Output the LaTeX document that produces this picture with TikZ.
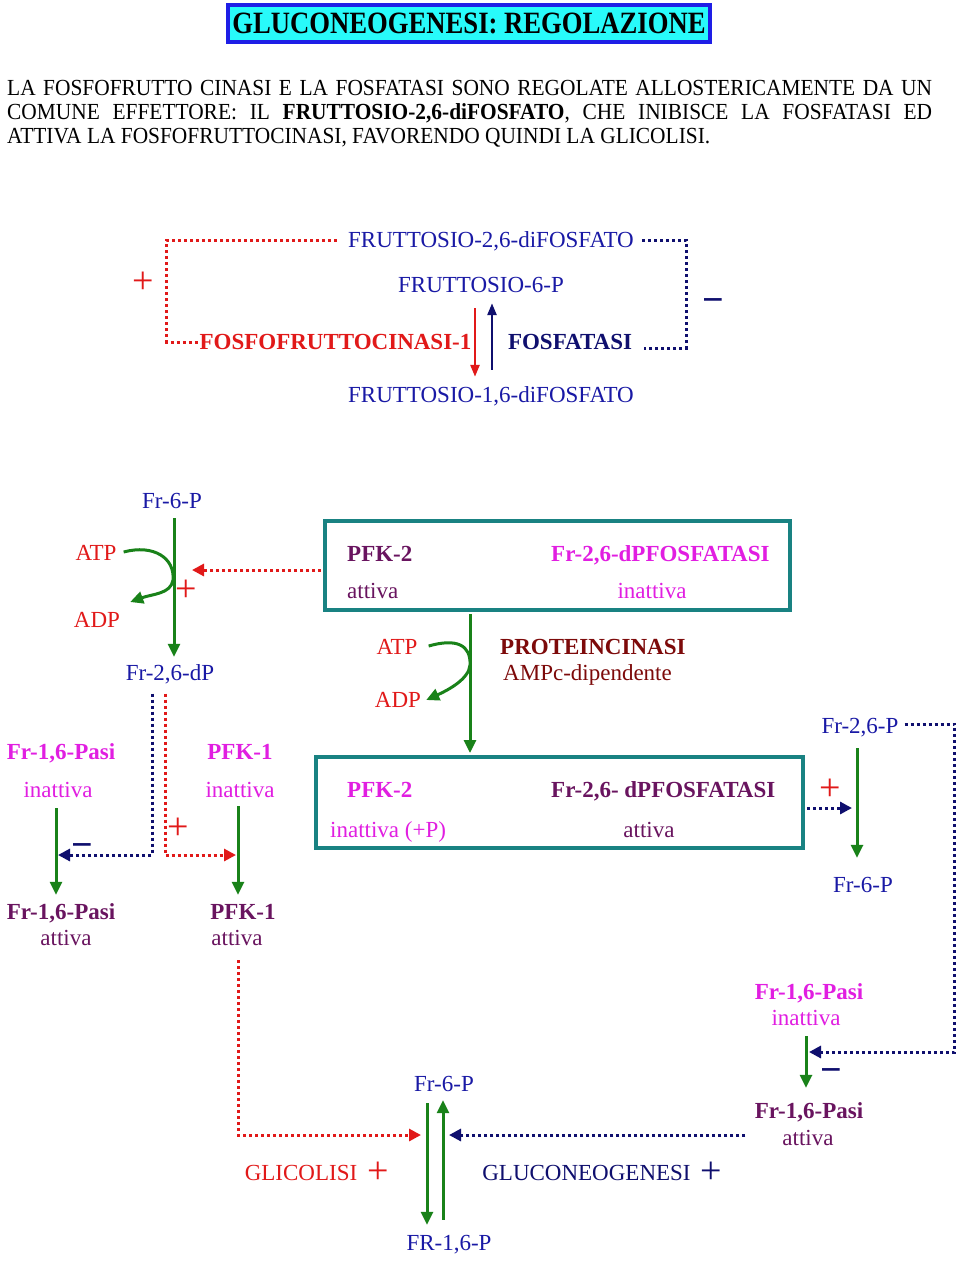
\documentclass[tikz,border=0pt]{standalone}
\usepackage{fontspec}
\setmainfont{Liberation Serif}
\newfontfamily\condfont[FakeStretch=0.93]{Liberation Serif}
\newfontfamily\titlefont[FakeStretch=0.86]{Liberation Serif}
\usetikzlibrary{arrows.meta,calc}
\definecolor{tblue}{RGB}{25,25,165}
\definecolor{navyc}{RGB}{15,15,110}
\definecolor{tred}{RGB}{225,25,25}
\definecolor{mag}{RGB}{225,30,225}
\definecolor{purp}{RGB}{105,20,95}
\definecolor{maroonc}{RGB}{125,10,10}
\definecolor{grn}{RGB}{25,130,25}
\definecolor{boxteal}{RGB}{25,130,130}
\definecolor{titlecyan}{RGB}{40,250,250}
\definecolor{titleblue}{RGB}{30,30,230}
\begin{document}
\begin{tikzpicture}[x=1pt,y=-1pt,
  lbl/.style={inner sep=0pt,text height=16pt,text depth=5pt,font=\fontsize{23}{26}\selectfont},
  blbl/.style={lbl,font=\fontsize{23}{26}\selectfont\bfseries},
  sgn/.style={inner sep=0pt,anchor=base,font=\fontsize{38}{38}\selectfont},
  msgn/.style={inner sep=0pt,anchor=base,font=\fontsize{38}{38}\selectfont\bfseries},
  grnarr/.style={draw=grn,line width=3pt,-{Triangle[length=13pt,width=12pt]}},
  rdot/.style={draw=tred,line width=3pt,dash pattern=on 3pt off 3pt},
  ndot/.style={draw=navyc,line width=3pt,dash pattern=on 3pt off 3pt},
  rdarr/.style={rdot,-{Triangle[length=12pt,width=12pt]}},
  ndarr/.style={ndot,-{Triangle[length=12pt,width=12pt]}},
  enzbox/.style={draw=boxteal,line width=4pt,inner sep=0pt}
]
\useasboundingbox (0,0) rectangle (960,1262);
\fill[white] (0,0) rectangle (960,1262);

% title
\node[draw=titleblue,fill=titlecyan,line width=3.5pt,minimum width=482pt,minimum height=37pt,inner sep=0pt,
  font=\titlefont\fontsize{31}{31}\selectfont\bfseries] (title) at (469,23.5) {GLUCONEOGENESI: REGOLAZIONE};

% paragraph
\node[anchor=base west,inner sep=0pt,font=\condfont\fontsize{23}{25}\selectfont] (p1) at (7,95)
  {\makebox[925pt][s]{LA FOSFOFRUTTO CINASI E LA FOSFATASI SONO REGOLATE ALLOSTERICAMENTE DA UN}};
\node[anchor=base west,inner sep=0pt,font=\condfont\fontsize{23}{25}\selectfont] (p2) at (7,119)
  {\makebox[925pt][s]{COMUNE EFFETTORE: IL \textbf{FRUTTOSIO-2,6-diFOSFATO}, CHE INIBISCE LA FOSFATASI ED}};
\node[anchor=base west,inner sep=0pt,font=\condfont\fontsize{23}{25}\selectfont] (p3) at (7,143)
  {ATTIVA LA FOSFOFRUTTOCINASI, FAVORENDO QUINDI LA GLICOLISI.};

% top scheme
\node[lbl,text=tblue] (f26) at (491,242) {FRUTTOSIO-2,6-diFOSFATO};
\node[lbl,text=tblue] (f6) at (481,287) {FRUTTOSIO-6-P};
\node[blbl,text=tred] (pfk) at (335.5,344) {FOSFOFRUTTOCINASI-1};
\node[blbl,text=navyc] (fosf) at (570,344) {FOSFATASI};
\node[lbl,text=tblue] (f16) at (491,397) {FRUTTOSIO-1,6-diFOSFATO};
\node[sgn,text=tred] (plusA) at (143,293.5) {+};
\node[msgn,text=navyc] (minusA) at (713,312) {−};
\draw[rdot] ($(f26.west)+(-11,-2)$) -- ++(-170,0) |- ($(pfk.west)+(0,-2)$);
\draw[ndot] ($(f26.east)+(8,-2)$) -- ++(44,0) |- ($(fosf.east)+(12,4)$);
\draw[draw=tred,line width=2.5pt,-{Triangle[length=12pt,width=9pt]}] ($(f6.south)+(-6,10.5)$) -- ($(f16.north)+(-16,-9.5)$);
\draw[draw=navyc,line width=2.5pt,-{Triangle[length=12pt,width=9pt]}] ($(f16.north)+(1,-16.5)$) -- ($(f6.south)+(11,5.5)$);

% left: PFK-2 reaction
\node[lbl,text=tblue] (fr6a) at (172,503) {Fr-6-P};
\node[lbl,text=tred] (atp1) at (96,555) {ATP};
\node[lbl,text=tred] (adp1) at (97,622) {ADP};
\node[lbl,text=tblue] (fr26dp) at (170,675) {Fr-2,6-dP};
\coordinate (k1) at (173,580);
\draw[grnarr] ($(fr6a.south)+(2,4.5)$) -- ($(fr26dp.north)+(4,-7.5)$);
\draw[grnarr] ($(atp1.east)+(7,-3)$) .. controls +(30,-8) and +(2,-22) .. (k1) .. controls +(-2,14) and +(22,-8) .. ($(adp1.east)+(10,-20)$);
\node[sgn,text=tred] (plusB) at (186,601.5) {+};
\coordinate (t1) at (192,570);

% boxes
\node[enzbox,minimum width=465pt,minimum height=89pt] (box1) at (557.5,565.5) {};
\node[enzbox,minimum width=487pt,minimum height=91pt] (box2) at (559.5,802.5) {};
\draw[rdarr] ($(box1.west)+(-2,4.5)$) -- (t1);

\node[blbl,text=purp,anchor=west] (pfk2a) at (347,556) {PFK-2};
\node[lbl,text=purp,anchor=west] (att3) at (347,593) {attiva};
\node[blbl,text=mag,anchor=west] (fdp1) at (551,556) {Fr-2,6-dPFOSFATASI};
\node[lbl,text=mag] (in3) at (652,593) {inattiva};

\node[lbl,text=tred] (atp2) at (397,649) {ATP};
\node[lbl,text=tred] (adp2) at (398,702) {ADP};
\node[blbl,text=maroonc,anchor=west] (prot) at (500,649) {PROTEINCINASI};
\node[lbl,text=maroonc,anchor=west] (ampc) at (503,675) {AMPc-dipendente};
\coordinate (k2) at (470,665);
\draw[grnarr] ($(box1.south)+(-87.5,2)$) -- ($(box2.north)+(-89.5,-2)$);
\draw[grnarr] ($(atp2.east)+(11,-3)$) .. controls +(28,-8) and +(1,-20) .. (k2) .. controls +(-1,14) and +(22,-10) .. ($(adp2.east)+(5,-2)$);

\node[blbl,text=mag,anchor=west] (pfk2b) at (347,792) {PFK-2};
\node[lbl,text=mag,anchor=west] (inp) at (330,832) {inattiva (+P)};
\node[blbl,text=purp,anchor=west] (fdp2) at (551,792) {Fr-2,6- dPFOSFATASI};
\node[lbl,text=purp] (att4) at (649,832) {attiva};

% right
\node[lbl,text=tblue] (fr26p) at (860,728) {Fr-2,6-P};
\node[lbl,text=tblue] (fr6b) at (863,887) {Fr-6-P};
\coordinate (tD) at (852,808);
\draw[ndarr] ($(box2.east)+(2,5.5)$) -- (tD);
\node[sgn,text=tred] (plusC) at (830,800.5) {+};
\draw[grnarr] ($(fr26p.south)+(-3,9.5)$) -- ($(fr6b.north)+(-6,-18.5)$);

\node[blbl,text=mag] (fpi2) at (809,994) {Fr-1,6-Pasi};
\node[lbl,text=mag] (in4) at (806,1020) {inattiva};
\node[blbl,text=purp] (fpa2) at (809,1113) {Fr-1,6-Pasi};
\node[lbl,text=purp] (at5) at (808,1140) {attiva};
\draw[grnarr] ($(in4.south)+(0,5.5)$) -- ($(fpa2.north)+(-3,-14.5)$);
\node[msgn,text=navyc] (minusC) at (831,1082) {−};
\coordinate (tE) at (809,1052);
\draw[ndarr] ($(fr26p.east)+(6,-4)$) -- ++(50,0) |- (tE);

% left lower
\node[blbl,text=mag] (fpi1) at (61,754) {Fr-1,6-Pasi};
\node[lbl,text=mag] (in1) at (58,792) {inattiva};
\node[blbl,text=purp] (fpa1) at (61,914) {Fr-1,6-Pasi};
\node[lbl,text=purp] (at1) at (66,940) {attiva};
\draw[grnarr] ($(in1.south)+(-2,5.5)$) -- ($(fpa1.north)+(-5,-8.5)$);

\node[blbl,text=mag] (pk1i) at (240,754) {PFK-1};
\node[lbl,text=mag] (in2) at (240,792) {inattiva};
\node[blbl,text=purp] (pk1a) at (243,914) {PFK-1};
\node[lbl,text=purp] (at2) at (237,940) {attiva};
\draw[grnarr] ($(in2.south)+(-2,3.5)$) -- ($(pk1a.north)+(-5,-8.5)$);

\coordinate (tA) at (58,855);
\coordinate (tB) at (236,855);
\draw[ndarr] ($(fr26dp.south)+(-18,8)$) |- (tA);
\draw[rdarr] ($(fr26dp.south)+(-5,8)$) |- (tB);
\node[msgn,text=navyc] (minusB) at (82,857) {−};
\node[sgn,text=tred] (plusD) at (178,839.5) {+};

% bottom
\node[lbl,text=tblue] (fr6c) at (444,1086) {Fr-6-P};
\node[lbl,text=tblue] (fr16) at (449,1245) {FR-1,6-P};
\draw[grnarr] ($(fr6c.south)+(-17,6.5)$) -- ($(fr16.north)+(-22,-9.5)$);
\draw[grnarr] ($(fr16.north)+(-6,-14.5)$) -- ($(fr6c.south)+(-1,3.5)$);
\coordinate (tC) at (421,1135);
\coordinate (tF) at (449,1135);
\draw[rdarr] ($(at2.south)+(1,9.5)$) |- (tC);
\draw[ndarr] ($(at5.west)+(-37,-5)$) -- (tF);
\node[lbl,text=tred] (glic) at (301,1175) {GLICOLISI};
\node[sgn,text=tred] (plusE) at (378,1183.5) {+};
\node[lbl,text=navyc] (gneo) at (586.5,1175) {GLUCONEOGENESI};
\node[sgn,text=navyc] (plusF) at (711,1183.5) {+};
\end{tikzpicture}
\end{document}
